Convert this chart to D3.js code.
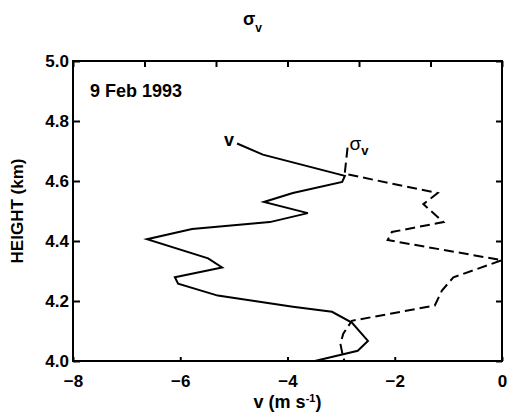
<!DOCTYPE html>
<html>
<head>
<meta charset="utf-8">
<script src="https://cdn.jsdelivr.net/npm/d3@7"></script>
<style>
  html, body { margin: 0; padding: 0; background: #fff; }
  svg { display: block; font-family: "Liberation Sans", Arial, sans-serif; }
</style>
</head>
<body>
<div id="chart"></div>
<script>
// v profile (solid) — height in km, v in m/s
const vHeight = [4.725, 4.688, 4.617, 4.597, 4.560, 4.530, 4.493, 4.463, 4.440, 4.406, 4.342,
                 4.312, 4.279, 4.258, 4.218, 4.181, 4.164, 4.128, 4.067, 4.034, 4.000];
const vSpeed = [-4.94, -4.46, -2.93, -2.98, -3.90, -4.44, -3.62, -4.33, -5.78, -6.62, -5.48,
                -5.22, -6.10, -6.04, -5.30, -3.90, -3.17, -2.80, -2.50, -2.69, -3.49];

// sigma_v profile (dashed) — read against the unlabelled top axis
const sigHeight = [4.711, 4.624, 4.560, 4.523, 4.463, 4.430, 4.403, 4.336, 4.279, 4.235,
                   4.185, 4.134, 4.091, 4.057, 4.010, 4.000];
const sigValue = [1.92, 1.90, 2.55, 2.45, 2.59, 2.23, 2.20, 3.00, 2.66, 2.58,
                  2.53, 1.95, 1.89, 1.87, 1.89, 1.90];

const xTicks = [-8, -6, -4, -2, 0];
const yTicks = [4.0, 4.2, 4.4, 4.6, 4.8, 5.0];
const topTicks = [0, 0.5, 1, 1.5, 2, 2.5, 3];

const W = 507, H = 416;
const M = { top: 61, right: 5, bottom: 55, left: 73 };
const iW = W - M.left - M.right;
const iH = H - M.top - M.bottom;
const FONT = 17;

const x = d3.scaleLinear().domain([-8, 0]).range([0, iW]);
const xs = d3.scaleLinear().domain([0, 3]).range([0, iW]);
const y = d3.scaleLinear().domain([4.0, 5.0]).range([iH, 0]);

const svg = d3.select('#chart').append('svg')
    .attr('width', W).attr('height', H);

const g = svg.append('g').attr('transform', `translate(${M.left},${M.top})`);

function styleAxis(sel) {
    sel.select('.domain').remove();
    sel.selectAll('.tick line').attr('stroke', '#000').attr('stroke-width', 2);
    sel.selectAll('.tick text')
        .attr('fill', '#000')
        .attr('font-size', FONT)
        .attr('font-weight', 'bold');
}

// axes
g.append('g')
    .attr('transform', `translate(0,${iH})`)
    .call(d3.axisBottom(x).tickValues(xTicks).tickSizeInner(-4).tickSizeOuter(0)
        .tickPadding(14).tickFormat(d3.format('d')))
    .call(styleAxis);

g.append('g')
    .call(d3.axisLeft(y).tickValues(yTicks).tickSizeInner(-7).tickSizeOuter(0)
        .tickPadding(4).tickFormat(d3.format('.1f')))
    .call(styleAxis);

g.append('g')
    .call(d3.axisTop(xs).tickValues(topTicks).tickSizeInner(-6).tickSizeOuter(0).tickFormat(''))
    .call(styleAxis);

g.append('g')
    .attr('transform', `translate(${iW},0)`)
    .call(d3.axisRight(y).tickValues(yTicks).tickSizeInner(-6).tickSizeOuter(0).tickFormat(''))
    .call(styleAxis);

// frame
g.append('rect')
    .attr('x', 0).attr('y', 0)
    .attr('width', iW).attr('height', iH)
    .attr('fill', 'none')
    .attr('stroke', '#000')
    .attr('stroke-width', 2);

// lines
const vLine = d3.line().x(d => x(d[1])).y(d => y(d[0]));
const sLine = d3.line().x(d => xs(d[1])).y(d => y(d[0]));

g.append('path')
    .datum(d3.zip(sigHeight, sigValue))
    .attr('fill', 'none')
    .attr('stroke', '#000')
    .attr('stroke-width', 2)
    .attr('stroke-dasharray', '10,5')
    .attr('d', sLine);

g.append('path')
    .datum(d3.zip(vHeight, vSpeed))
    .attr('fill', 'none')
    .attr('stroke', '#000')
    .attr('stroke-width', 2)
    .attr('d', vLine);

// in-plot labels
g.append('text')
    .attr('x', 17).attr('y', 36)
    .attr('font-size', FONT + 1).attr('font-weight', 'bold')
    .text('9 Feb 1993');

g.append('text')
    .attr('x', x(vSpeed[0]) - 13).attr('y', y(vHeight[0]) + 2)
    .attr('font-size', FONT + 1).attr('font-weight', 'bold')
    .text('v');

const sigLabel = g.append('text')
    .attr('x', xs(sigValue[0]) + 2).attr('y', y(sigHeight[0]) + 2)
    .attr('font-size', FONT + 2);
sigLabel.append('tspan').text('σ');
sigLabel.append('tspan').attr('font-size', FONT - 4).attr('dy', 5).attr('font-weight', 'bold').text('v');

// axis titles
const topTitle = svg.append('text')
    .attr('x', 243).attr('y', 25)
    .attr('font-size', FONT + 1).attr('font-weight', 'bold');
topTitle.append('tspan').text('σ');
topTitle.append('tspan').attr('font-size', FONT - 5).attr('dy', 7).text('v');

const xTitle = svg.append('text')
    .attr('x', M.left + iW / 2).attr('y', 408)
    .attr('text-anchor', 'middle')
    .attr('font-size', FONT + 1).attr('font-weight', 'bold');
xTitle.append('tspan').text('v (m s');
xTitle.append('tspan').attr('font-size', FONT - 6).attr('dy', -6).text('-1');
xTitle.append('tspan').attr('dy', 6).text(')');

svg.append('text')
    .attr('transform', `translate(23,${M.top + iH / 2}) rotate(-90)`)
    .attr('text-anchor', 'middle')
    .attr('font-size', FONT).attr('font-weight', 'bold')
    .text('HEIGHT (km)');
</script>
</body>
</html>
